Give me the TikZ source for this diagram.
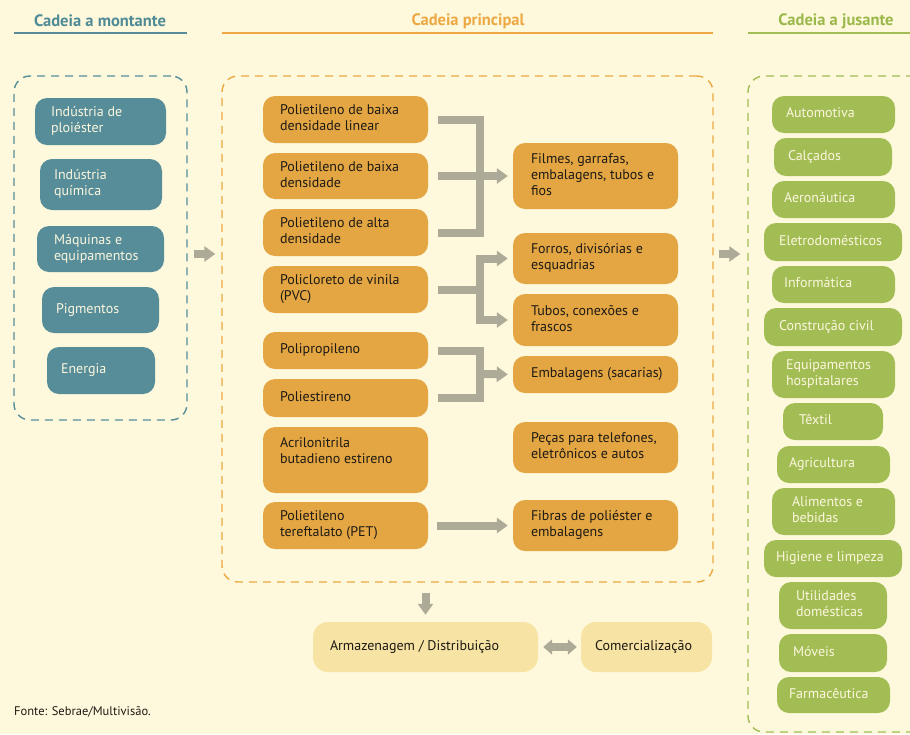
\documentclass[tikz,border=0pt]{standalone}
\usepackage{fontspec}
\setmainfont{PT Sans}
\usetikzlibrary{arrows.meta}
\definecolor{bg}{HTML}{FEF9DC}
\definecolor{teal}{HTML}{568D99}
\definecolor{tealtxt}{HTML}{4F8A97}
\definecolor{orng}{HTML}{E3A643}
\definecolor{orngline}{HTML}{EDA843}
\definecolor{grn}{HTML}{A3BD55}
\definecolor{grntxt}{HTML}{9AB84A}
\definecolor{arrgray}{HTML}{AEAA98}
\definecolor{pale}{HTML}{F7E3A3}
\definecolor{cream}{HTML}{FCF6DE}
\definecolor{dark}{HTML}{1E1A14}
\newcommand\bx[8]{%
  \pgfmathsetmacro\bxw{#5-#3-2*#7}%
  \pgfmathsetmacro\bxww{#5-#3}%
  \pgfmathsetmacro\bxh{#6-#4}%
  \node[#1, minimum width=\bxww pt, minimum height=\bxh pt] (#2) at ({(#3+#5)/2},{(#4+#6)/2})
    {\makebox[\bxw pt][l]{\begin{tabular}{@{}l@{}}#8\end{tabular}}};%
}
\begin{document}
\begin{tikzpicture}[x=1pt,y=-1pt,
  box/.style={rounded corners=12pt, inner sep=0pt, font=\fontsize{14}{16}\selectfont},
  upbox/.style={box, fill=teal, text=cream},
  mainbox/.style={box, fill=orng, text=dark},
  downbox/.style={box, fill=grn, text=cream},
  palebox/.style={box, fill=pale, text=dark, rounded corners=15pt},
  zone/.style={draw, line width=1.4pt, dash pattern=on 8pt off 6pt, rounded corners=16pt, inner sep=0pt},
  hdr/.style={font=\fontsize{16.5}{19}\selectfont\bfseries},
  conn/.style={draw=arrgray, line width=8pt},
  arr/.style={conn, -{Triangle[length=11pt,width=15pt]}},
  darr/.style={conn, {Triangle[length=9pt,width=15pt]}-{Triangle[length=9pt,width=15pt]}},
]
\fill[bg] (0,0) rectangle (910,734);
\useasboundingbox (0,0) rectangle (910,734);
\clip (0,0) rectangle (910,734);

% headers
\node[hdr, text=tealtxt] (h1) at (100,21) {Cadeia a montante};
\node[hdr, text=orngline] (h2) at (468,21) {Cadeia principal};
\node[hdr, text=grntxt] (h3) at (836,21) {Cadeia a jusante};
\draw[teal, line width=2pt] (14,33) -- (187,33);
\draw[orngline, line width=2pt] (222,33) -- (713,33);
\draw[grn, line width=2pt] (748,33) -- (910,33);

% zones
\node[zone, draw=teal, minimum width=173pt, minimum height=344pt] (up) at ({(14+187)/2},{(76+420)/2}) {};
\node[zone, draw=orngline, minimum width=491pt, minimum height=506pt] (main) at ({(222+713)/2},{(76+582)/2}) {};
\node[zone, draw=grn, minimum width=182pt, minimum height=656pt] (down) at ({(748+930)/2},{(76+732)/2}) {};

% upstream
\bx{upbox}{u1}{35}{98}{166}{145}{16}{Indústria de\\ploiéster}
\bx{upbox}{u2}{40}{159}{162}{210}{14}{Indústria\\química}
\bx{upbox}{u3}{37}{226}{164}{272}{17}{Máquinas e\\equipamentos}
\bx{upbox}{u4}{42}{287}{159}{333}{14}{Pigmentos}
\bx{upbox}{u5}{47}{347}{155}{394}{14}{Energia}

% main chain, left column
\bx{mainbox}{p1}{263}{96}{428}{143}{17}{Polietileno de baixa\\densidade linear}
\bx{mainbox}{p2}{263}{153}{428}{199}{17}{Polietileno de baixa\\densidade}
\bx{mainbox}{p3}{263}{209}{428}{256}{17}{Polietileno de alta\\densidade}
\bx{mainbox}{pvc}{263}{266}{428}{313}{17}{Policloreto de vinila\\(PVC)}
\bx{mainbox}{pp}{263}{332}{428}{369}{17}{Polipropileno}
\bx{mainbox}{ps}{263}{379}{428}{417}{17}{Poliestireno}
\bx{mainbox}{abs}{263}{427}{428}{493}{17}{Acrilonitrila\\butadieno estireno\\\mbox{}}
\bx{mainbox}{pet}{263}{502}{428}{549}{17}{Polietileno\\tereftalato (PET)}

% main chain, right column
\bx{mainbox}{r1}{513}{143}{678}{209}{18}{Filmes, garrafas,\\embalagens, tubos e\\fios}
\bx{mainbox}{r2}{513}{233}{678}{284}{18}{Forros, divisórias e\\esquadrias}
\bx{mainbox}{r3}{513}{294}{678}{346}{18}{Tubos, conexões e\\frascos}
\bx{mainbox}{r4}{513}{356}{678}{393}{18}{Embalagens (sacarias)}
\bx{mainbox}{r5}{513}{422}{678}{473}{18}{Peças para telefones,\\eletrônicos e autos}
\bx{mainbox}{r6}{513}{500}{678}{551}{18}{Fibras de poliéster e\\embalagens}

% downstream
\bx{downbox}{d1}{772}{96}{895}{133}{14}{Automotiva}
\bx{downbox}{d2}{774}{138}{892}{176}{14}{Calçados}
\bx{downbox}{d3}{772}{181}{895}{218}{12}{Aeronáutica}
\bx{downbox}{d4}{764}{223}{902}{261}{15}{Eletrodomésticos}
\bx{downbox}{d5}{772}{266}{895}{303}{12}{Informática}
\bx{downbox}{d6}{764}{308}{902}{346}{15}{Construção civil}
\bx{downbox}{d7}{772}{351}{895}{398}{14}{Equipamentos\\hospitalares}
\bx{downbox}{d8}{783}{403}{883}{440}{16}{Têxtil}
\bx{downbox}{d9}{777}{446}{890}{483}{12}{Agricultura}
\bx{downbox}{d10}{772}{488}{895}{535}{20}{Alimentos e\\bebidas}
\bx{downbox}{d11}{764}{540}{902}{577}{12}{Higiene e limpeza}
\bx{downbox}{d12}{779}{582}{887}{629}{17}{Utilidades\\domésticas}
\bx{downbox}{d13}{779}{634}{887}{672}{14}{Móveis}
\bx{downbox}{d14}{777}{677}{890}{713}{12}{Farmacêutica}

% bottom
\bx{palebox}{arm}{313}{622}{538}{672}{17}{Armazenagem / Distribuição}
\bx{palebox}{com}{581}{622}{712}{672}{14}{Comercialização}

\node[anchor=west, text=dark, font=\fontsize{12.5}{14}\selectfont, inner sep=0pt] (src) at (14,712) {Fonte: Sebrae/Multivisão.};

% connectors
\coordinate (j1) at (480,177);
\coordinate (j2) at (480,289.5);
\coordinate (j3) at (480,374);
\coordinate (ay) at (0,254);

\draw[conn, shorten <=10pt] (p1.east) -| (j1);
\draw[conn, shorten <=10pt] (p3.east) -| (j1);
\draw[arr, shorten <=10pt, shorten >=5pt] (p2.east) -- (r1.west |- p2.east);

\draw[conn, shorten <=10pt] (pvc.east) -- (j2);
\draw[arr, shorten >=5pt] (j2) |- (r2.west);
\draw[arr, shorten >=5pt] (j2) |- (r3.west);

\draw[conn, shorten <=10pt] (pp.east) -| (j3);
\draw[conn, shorten <=10pt] (ps.east) -| (j3);
\draw[arr, shorten >=5pt] (j3) -- (r4.west);

\draw[arr, shorten <=9pt, shorten >=5pt] (pet.east) -- (r6.west);

\draw[arr, shorten <=6pt, shorten >=6pt] (up.east |- ay) -- (main.west |- ay);
\draw[arr, shorten <=5pt, shorten >=7pt] (main.east |- ay) -- (down.west |- ay);
\draw[arr, shorten <=10pt, shorten >=7pt] (arm.north |- main.south) -- (arm.north);
\draw[darr, shorten <=5pt, shorten >=4pt] (arm.east) -- (com.west);
\end{tikzpicture}
\end{document}
